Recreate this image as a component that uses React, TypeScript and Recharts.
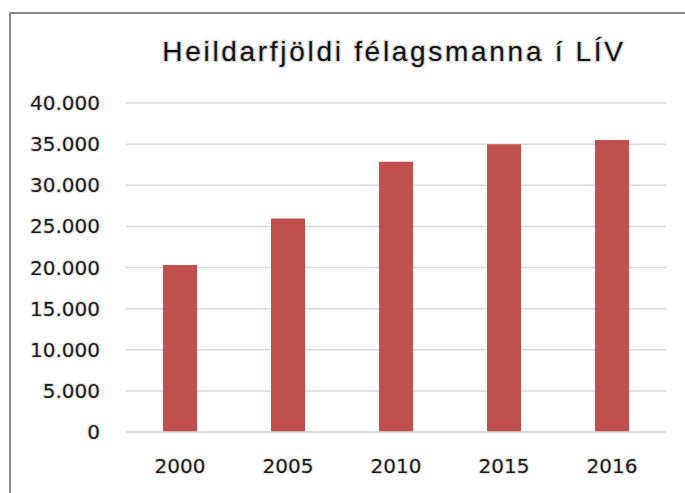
import { BarChart, Bar, XAxis, YAxis, CartesianGrid } from 'recharts'

const years = ['2000', '2005', '2010', '2015', '2016']
const members = [20300, 25950, 32850, 35000, 35500]
const yTicks = [0, 5000, 10000, 15000, 20000, 25000, 30000, 35000, 40000]

const title = 'Heildarfjöldi félagsmanna í LÍV'

const data = years.map((year, i) => ({ year, members: members[i] }))

const formatThousands = (v: number) => String(v).replace(/\B(?=(\d{3})+(?!\d))/g, '.')

const tickStyle = {
  fontFamily: 'DejaVu Sans',
  fontSize: 20,
  fill: '#1a1a1a',
  stroke: '#e0e0e0',
  strokeWidth: 2,
  paintOrder: 'stroke',
} as const

export default function App() {
  return (
    <div
      style={{
        position: 'fixed',
        left: 0,
        top: 0,
        width: 685,
        height: 493,
        overflow: 'hidden',
        background: '#fff',
      }}
    >
      <div
        style={{
          position: 'absolute',
          left: 9,
          top: 12,
          width: 800,
          height: 600,
          border: '2px solid #8a8a8a',
          boxSizing: 'border-box',
        }}
      />
      <svg width={685} height={493} style={{ position: 'absolute', left: 0, top: 0 }}>
        <text
          x={394}
          y={61}
          textAnchor="middle"
          fontFamily="Liberation Sans"
          fontSize={28}
          letterSpacing={2.7}
          fill="#111"
          stroke="#d6d6d6"
          strokeWidth={2.5}
          paintOrder="stroke"
        >
          {title}
        </text>
      </svg>
      <div style={{ position: 'absolute', left: 0, top: 0 }}>
        <BarChart
          width={685}
          height={493}
          data={data}
          margin={{ top: 103, right: 19, left: 0, bottom: 31 }}
          barSize={34}
        >
          <CartesianGrid vertical={false} stroke="#d9d9d9" strokeWidth={1.5} />
          <XAxis
            dataKey="year"
            axisLine={{ stroke: '#d9d9d9', strokeWidth: 1.5 }}
            tickLine={false}
            tickSize={0}
            tickMargin={27}
            height={30}
            tick={tickStyle}
          />
          <YAxis
            width={126}
            domain={[0, 40000]}
            ticks={yTicks}
            axisLine={false}
            tickLine={false}
            tickSize={0}
            tickMargin={26}
            tickFormatter={formatThousands}
            tick={tickStyle}
          />
          <Bar dataKey="members" fill="#c0504d" isAnimationActive={false} />
        </BarChart>
      </div>
    </div>
  )
}
